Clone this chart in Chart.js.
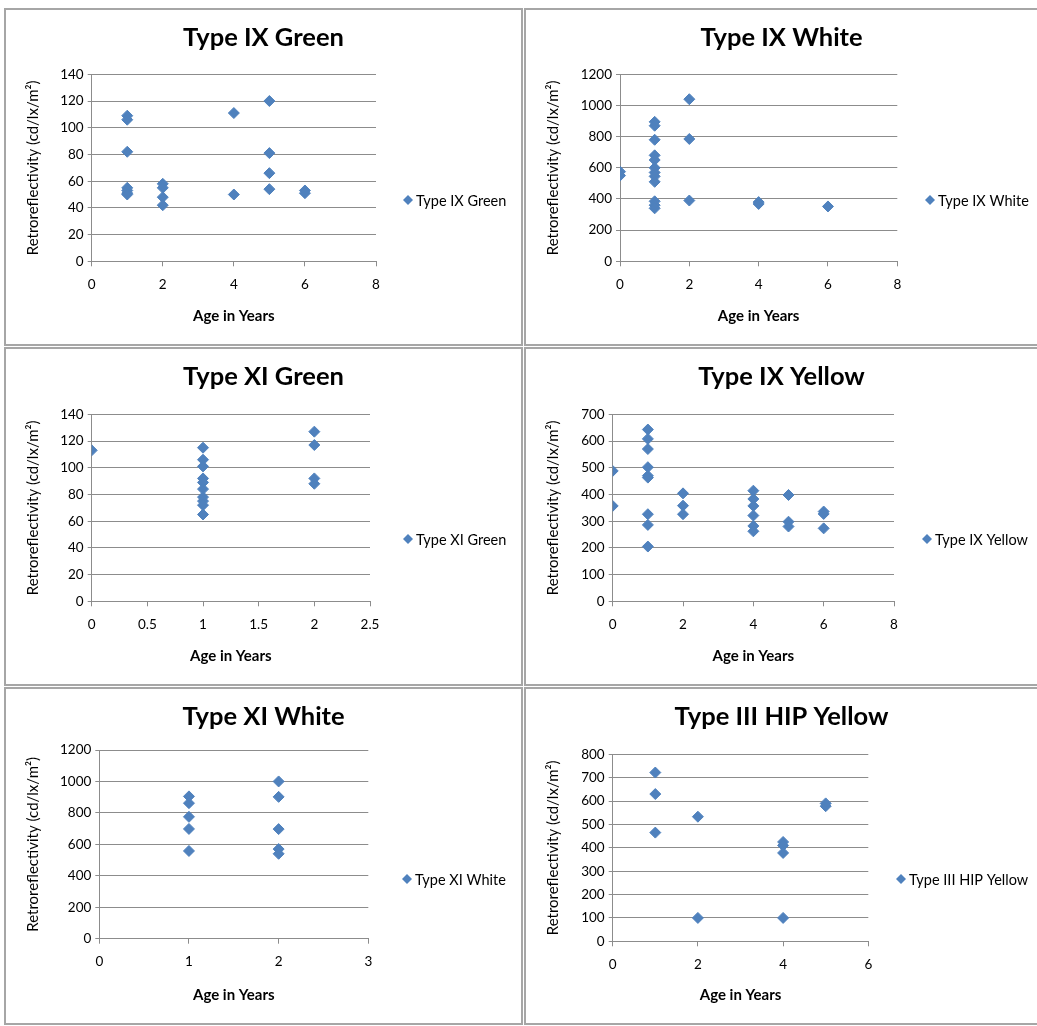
<!DOCTYPE html>
<html>
<head>
<meta charset="utf-8">
<script src="https://cdn.jsdelivr.net/npm/chart.js@4.4.0/dist/chart.umd.min.js"></script>
<style>
  body { margin: 0; background: #fff; width: 1037px; height: 1026px; position: relative; overflow: hidden; }
  .panel { position: absolute; border: 2px solid #a6a6a6; box-sizing: border-box; background: #fff; }
  .panel canvas { position: absolute; left: 0; top: 0; }
</style>
</head>
<body>
<div class="panel" style="left:4px;top:8px;width:519px;height:338px"><canvas id="c1" width="515" height="334"></canvas></div>
<div class="panel" style="left:524px;top:8px;width:520px;height:338px"><canvas id="c2" width="511" height="334"></canvas></div>
<div class="panel" style="left:4px;top:347px;width:519px;height:339px"><canvas id="c3" width="515" height="335"></canvas></div>
<div class="panel" style="left:524px;top:347px;width:520px;height:339px"><canvas id="c4" width="511" height="335"></canvas></div>
<div class="panel" style="left:4px;top:687px;width:519px;height:338px"><canvas id="c5" width="515" height="334"></canvas></div>
<div class="panel" style="left:524px;top:687px;width:520px;height:338px"><canvas id="c6" width="511" height="334"></canvas></div>

<script>
// age (years) and retroreflectivity readings per material
const ixGreenAge = [1, 1, 1, 1, 1, 1, 1, 2, 2, 2, 2, 4, 4, 5, 5, 5, 5, 6, 6];
const ixGreenRetro = [109, 106, 82, 55, 53, 51, 50, 58, 55, 48, 42, 111, 50, 120, 81, 66, 54, 53, 51];

const ixWhiteAge = [0, 0, 1, 1, 1, 1, 1, 1, 1, 1, 1, 1, 1, 1, 2, 2, 2, 4, 4, 6];
const ixWhiteRetro = [575, 550, 895, 870, 780, 680, 650, 600, 570, 545, 510, 385, 360, 340, 1040, 785, 390, 380, 368, 352];

const xiGreenAge = [0, 1, 1, 1, 1, 1, 1, 1, 1, 1, 1, 2, 2, 2, 2];
const xiGreenRetro = [113, 115, 106, 101, 92, 89, 84, 78, 75, 72, 65, 127, 117, 92, 88];

const ixYellowAge = [0, 0, 1, 1, 1, 1, 1, 1, 1, 1, 1, 2, 2, 2, 4, 4, 4, 4, 4, 4, 5, 5, 5, 6, 6, 6];
const ixYellowRetro = [488, 357, 643, 608, 570, 502, 470, 463, 326, 286, 205, 404, 358, 326, 414, 383, 357, 321, 282, 262, 398, 298, 280, 336, 327, 273];

const xiWhiteAge = [1, 1, 1, 1, 1, 2, 2, 2, 2, 2];
const xiWhiteRetro = [905, 862, 775, 698, 558, 1000, 902, 697, 570, 540];

const hipYellowAge = [1, 1, 1, 2, 2, 4, 4, 4, 4, 5, 5];
const hipYellowRetro = [722, 630, 465, 533, 100, 425, 410, 378, 100, 590, 578];

const panels = [
  { id: "c1", name: "Type IX Green", age: ixGreenAge, retro: ixGreenRetro, xMax: 8, xStep: 2, yMax: 140, yStep: 20,
    area: { left: 85.7, right: 370, top: 64.3, bottom: 251.3 }, legendX: 402 },
  { id: "c2", name: "Type IX White", age: ixWhiteAge, retro: ixWhiteRetro, xMax: 8, xStep: 2, yMax: 1200, yStep: 200,
    area: { left: 94, right: 371.3, top: 64.3, bottom: 251.3 }, legendX: 404 },
  { id: "c3", name: "Type XI Green", age: xiGreenAge, retro: xiGreenRetro, xMax: 2.5, xStep: 0.5, yMax: 140, yStep: 20,
    area: { left: 85.7, right: 364, top: 65.3, bottom: 252.3 }, legendX: 402 },
  { id: "c4", name: "Type IX Yellow", age: ixYellowAge, retro: ixYellowRetro, xMax: 8, xStep: 2, yMax: 700, yStep: 100,
    area: { left: 86.7, right: 368, top: 65.3, bottom: 252.3 }, legendX: 401 },
  { id: "c5", name: "Type XI White", age: xiWhiteAge, retro: xiWhiteRetro, xMax: 3, xStep: 1, yMax: 1200, yStep: 200,
    area: { left: 93.3, right: 362.3, top: 61, bottom: 249.7 }, legendX: 401 },
  { id: "c6", name: "Type III HIP Yellow", age: hipYellowAge, retro: hipYellowRetro, xMax: 6, xStep: 2, yMax: 800, yStep: 100,
    area: { left: 86.7, right: 342.3, top: 65.3, bottom: 252.3 }, legendX: 375 }
];

const blue = "#4f81bd";
const gridGrey = "#8c8c8c";

Chart.defaults.font.family = "Lato, 'Open Sans', sans-serif";
Chart.defaults.color = "#000";

// Excel-style legend: a single diamond + name to the right of the plot
const sideLegend = {
  id: "sideLegend",
  afterDraw(chart, args, opts) {
    const ctx = chart.ctx;
    const ds = chart.data.datasets[0];
    ctx.save();
    ctx.fillStyle = ds.backgroundColor;
    ctx.beginPath();
    ctx.moveTo(opts.x, opts.y - 5);
    ctx.lineTo(opts.x + 5, opts.y);
    ctx.lineTo(opts.x, opts.y + 5);
    ctx.lineTo(opts.x - 5, opts.y);
    ctx.closePath();
    ctx.fill();
    ctx.font = "14.5px Lato, sans-serif";
    ctx.fillStyle = "#000";
    ctx.textBaseline = "middle";
    ctx.fillText(ds.label, opts.x + 8, opts.y + 1);
    ctx.restore();
  }
};

panels.forEach(p => {
  const canvas = document.getElementById(p.id);
  const W = canvas.width, H = canvas.height;
  const titleSize = 25.5;
  const titleTop = 28 - titleSize * 0.6;

  new Chart(canvas, {
    type: "scatter",
    data: {
      datasets: [{
        label: p.name,
        data: p.age.map((a, i) => ({ x: a, y: p.retro[i] })),
        backgroundColor: blue,
        borderColor: blue,
        pointStyle: "rectRot",
        pointRadius: 5.5,
        pointBorderWidth: 1
      }]
    },
    options: {
      responsive: false,
      animation: false,
      events: [],
      layout: { padding: 0 },
      plugins: {
        legend: { display: false },
        tooltip: { enabled: false },
        title: {
          display: true,
          text: p.name,
          color: "#000",
          font: { size: titleSize, weight: "bold" },
          padding: { top: titleTop, bottom: p.area.top - titleTop - titleSize * 1.2 }
        },
        sideLegend: { x: p.legendX, y: 190 }
      },
      scales: {
        x: {
          type: "linear",
          min: 0,
          max: p.xMax,
          ticks: { stepSize: p.xStep, padding: 10, font: { size: 13.5 }, color: "#000", callback: v => String(v) },
          grid: { drawOnChartArea: false, drawTicks: true, tickLength: 5, tickColor: gridGrey },
          border: { display: true, color: gridGrey },
          title: { display: true, text: "Age in Years", font: { size: 15, weight: "bold" }, padding: { top: 0, bottom: 19 } },
          afterFit: s => { s.height = H - p.area.bottom; }
        },
        y: {
          type: "linear",
          min: 0,
          max: p.yMax,
          ticks: { stepSize: p.yStep, padding: 4, font: { size: 13.5 }, color: "#000", callback: v => String(v) },
          grid: { color: gridGrey, tickLength: 4, tickColor: gridGrey },
          border: { display: true, color: gridGrey },
          title: { display: true, text: "Retroreflectivity (cd/lx/m²)", font: { size: 15 }, padding: { top: 18, bottom: 0 } },
          afterFit: s => { s.width = p.area.left; }
        },
        side: {
          type: "linear",
          position: "right",
          display: true,
          ticks: { display: false },
          grid: { display: false },
          border: { display: false },
          afterFit: s => { s.width = W - p.area.right; }
        }
      }
    },
    plugins: [sideLegend]
  });
});
</script>
</body>
</html>
